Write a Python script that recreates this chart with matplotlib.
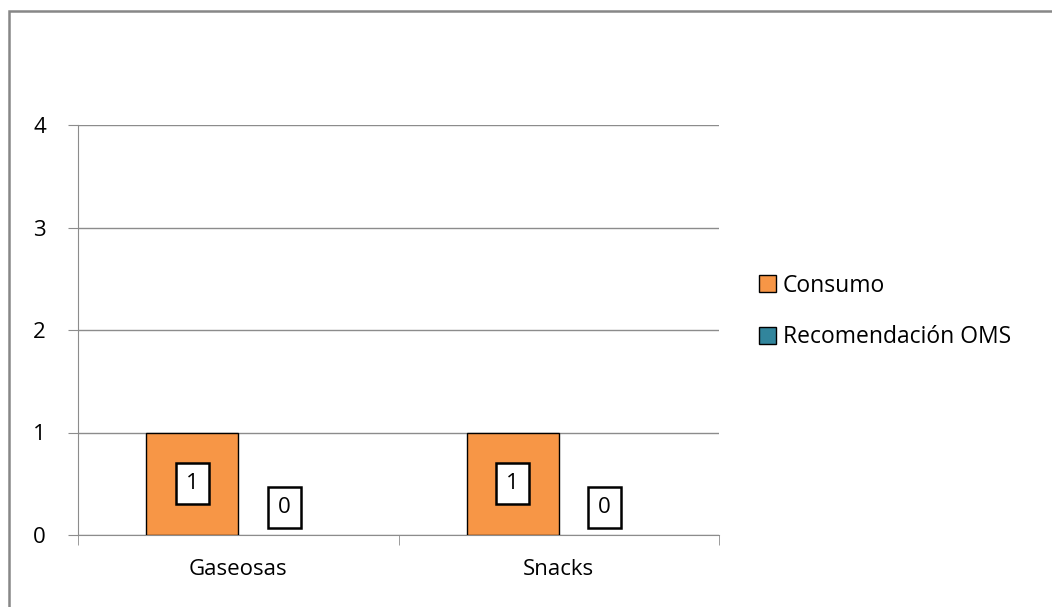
import matplotlib.pyplot as plt
import numpy as np
from matplotlib.patches import Rectangle

categories = ["Gaseosas", "Snacks"]
consumo = [1, 1]
recomendacion = [0, 0]
series_names = ["Consumo", "Recomendación OMS"]
colors = ["#F79646", "#31859C"]

plt.rcParams['font.family'] = ['Open Sans', 'DejaVu Sans']

fig = plt.figure(figsize=(10.52, 6.07), dpi=100)
ax = fig.add_axes([78/1052, 72/607, 641/1052, 410/607])

# outer chart border
fig.patches.append(Rectangle((9/1052, -0.05), 1.1, (607-11)/607 + 0.05,
                             transform=fig.transFigure, fill=False,
                             edgecolor="#878787", linewidth=1.8))

x = np.arange(len(categories))
w = 0.287
for i, (vals, c, name) in enumerate(zip([consumo, recomendacion], colors, series_names)):
    b = ax.bar(x + (i - 0.5) * w, vals, w, color=c, edgecolor="black",
               linewidth=[1.0 if v > 0 else 0 for v in vals], label=name, zorder=3)
    for rect, v in zip(b, vals):
        cx = rect.get_x() + rect.get_width() / 2
        if v > 0:
            ax.annotate(str(v), (cx, v / 2), ha="center", va="center", fontsize=16,
                        zorder=5,
                        bbox=dict(boxstyle="square,pad=0.45", fc="white", ec="black", lw=1.8))
        else:
            ax.annotate(str(v), (cx, 0), xytext=(0, 20), textcoords="offset points",
                        ha="center", va="center", fontsize=16, zorder=5,
                        bbox=dict(boxstyle="square,pad=0.45", fc="white", ec="black", lw=1.8))

ax.set_xlim(-0.5, 1.5)
ax.set_ylim(0, 4)
ax.set_yticks([0, 1, 2, 3, 4])
ax.yaxis.grid(True, color="#8c8c8c", linewidth=1.0, zorder=0)
ax.set_axisbelow(True)

ax.set_xticks(x)
ax.set_xticklabels(categories, fontsize=16)
ax.set_xticks([-0.5, 0.5, 1.5], minor=True)
ax.tick_params(axis="x", which="major", length=0, pad=17)
ax.tick_params(axis="x", which="minor", length=7, color="#8c8c8c", direction="out")
ax.tick_params(axis="y", length=7, color="#8c8c8c", labelsize=16, pad=16)

for s in ["top", "right"]:
    ax.spines[s].set_visible(False)
for s in ["left", "bottom"]:
    ax.spines[s].set_color("#8c8c8c")

leg = ax.legend(loc="center left", bbox_to_anchor=(1.03, 0.545), frameon=False,
                fontsize=16.5, handlelength=0.75, handleheight=0.75, handletextpad=0.3,
                labelspacing=1.2)
for h in leg.legend_handles:
    h.set_linewidth(1.0)

fig.savefig("out.png", dpi=100)
